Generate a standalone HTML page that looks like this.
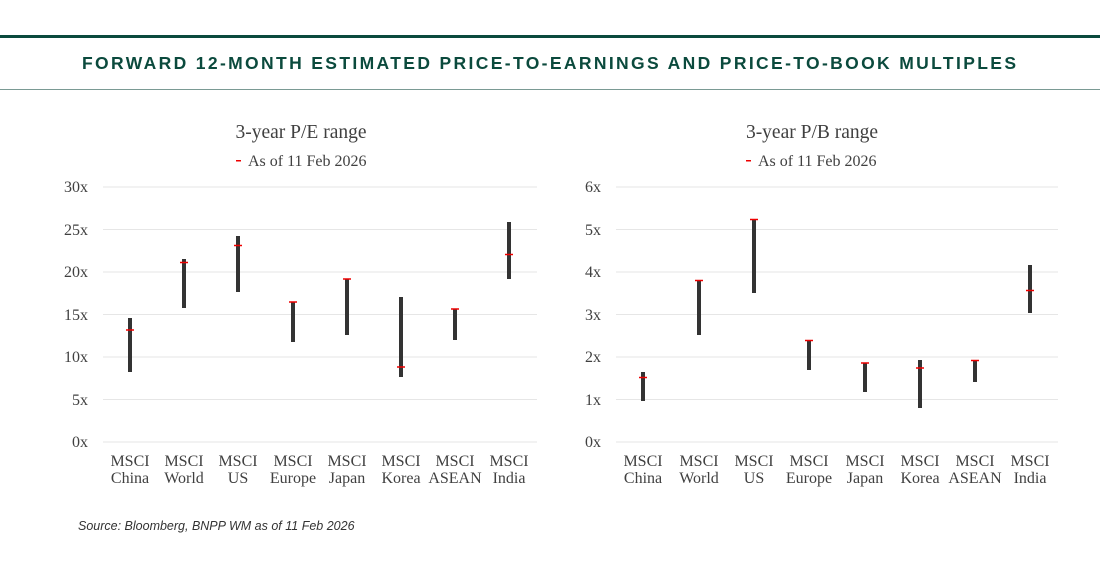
<!DOCTYPE html>
<html><head><meta charset="utf-8"><style>
html,body{margin:0;padding:0;background:#fff;}
body{width:1100px;height:570px;overflow:hidden;}
svg{display:block}
</style></head><body>
<svg width="1100" height="570" viewBox="0 0 1100 570" xmlns="http://www.w3.org/2000/svg">
<rect x="0" y="35" width="1100" height="3" fill="#0b4a3d"/>
<rect x="0" y="89" width="1100" height="1" fill="#7a9a94"/>
<text x="82" y="69" font-family="Liberation Sans, sans-serif" font-weight="bold" font-size="17.5" fill="#0b4a3d" textLength="934" lengthAdjust="spacing">FORWARD 12-MONTH ESTIMATED PRICE-TO-EARNINGS AND PRICE-TO-BOOK MULTIPLES</text>

<g font-family="Liberation Serif, serif" fill="#404040">
<text x="301" y="138" text-anchor="middle" font-size="19.5">3-year P/E range</text>
<text x="812" y="138" text-anchor="middle" font-size="19.5">3-year P/B range</text>
<text x="248" y="166" font-size="16">As of 11 Feb 2026</text>
<text x="758" y="166" font-size="16">As of 11 Feb 2026</text>
</g>
<rect x="236" y="160" width="5" height="1.5" fill="#e00"/>
<rect x="746" y="160" width="5" height="1.5" fill="#e00"/>

<g stroke="#e6e6e6" stroke-width="1">
<line x1="103" x2="537" y1="187" y2="187"/><line x1="103" x2="537" y1="229.5" y2="229.5"/><line x1="103" x2="537" y1="272" y2="272"/><line x1="103" x2="537" y1="314.5" y2="314.5"/><line x1="103" x2="537" y1="357" y2="357"/><line x1="103" x2="537" y1="399.5" y2="399.5"/><line x1="103" x2="537" y1="442" y2="442"/>
<line x1="616" x2="1058" y1="187" y2="187"/><line x1="616" x2="1058" y1="229.5" y2="229.5"/><line x1="616" x2="1058" y1="272" y2="272"/><line x1="616" x2="1058" y1="314.5" y2="314.5"/><line x1="616" x2="1058" y1="357" y2="357"/><line x1="616" x2="1058" y1="399.5" y2="399.5"/><line x1="616" x2="1058" y1="442" y2="442"/>
</g>
<g font-family="Liberation Serif, serif" font-size="16" fill="#404040" text-anchor="end">
<text x="88" y="192">30x</text><text x="88" y="235">25x</text><text x="88" y="277">20x</text><text x="88" y="320">15x</text><text x="88" y="362">10x</text><text x="88" y="405">5x</text><text x="88" y="447">0x</text>
<text x="601" y="192">6x</text><text x="601" y="235">5x</text><text x="601" y="277">4x</text><text x="601" y="320">3x</text><text x="601" y="362">2x</text><text x="601" y="405">1x</text><text x="601" y="447">0x</text>
</g>
<g stroke="#333" stroke-width="4">
<line x1="130" x2="130" y1="318" y2="372"/>
<line x1="184" x2="184" y1="259" y2="308"/>
<line x1="238" x2="238" y1="236" y2="292"/>
<line x1="293" x2="293" y1="302" y2="342"/>
<line x1="347" x2="347" y1="279" y2="335"/>
<line x1="401" x2="401" y1="297" y2="377"/>
<line x1="455" x2="455" y1="309" y2="340"/>
<line x1="509" x2="509" y1="222" y2="279"/>
<line x1="643" x2="643" y1="372" y2="401"/>
<line x1="699" x2="699" y1="281" y2="335"/>
<line x1="754" x2="754" y1="219" y2="293"/>
<line x1="809" x2="809" y1="341" y2="370"/>
<line x1="865" x2="865" y1="363" y2="392"/>
<line x1="920" x2="920" y1="360" y2="408"/>
<line x1="975" x2="975" y1="360" y2="382"/>
<line x1="1030" x2="1030" y1="265" y2="313"/>
</g>
<g stroke="#e00" stroke-width="1.5">
<line x1="126" x2="134" y1="330" y2="330"/>
<line x1="180" x2="188" y1="262.5" y2="262.5"/>
<line x1="234" x2="242" y1="245.5" y2="245.5"/>
<line x1="289" x2="297" y1="302" y2="302"/>
<line x1="343" x2="351" y1="279" y2="279"/>
<line x1="397" x2="405" y1="367" y2="367"/>
<line x1="451" x2="459" y1="309" y2="309"/>
<line x1="505" x2="513" y1="254.5" y2="254.5"/>
<line x1="639" x2="647" y1="377.5" y2="377.5"/>
<line x1="695" x2="703" y1="280.5" y2="280.5"/>
<line x1="750" x2="758" y1="219.5" y2="219.5"/>
<line x1="805" x2="813" y1="340.5" y2="340.5"/>
<line x1="861" x2="869" y1="363" y2="363"/>
<line x1="916" x2="924" y1="368" y2="368"/>
<line x1="971" x2="979" y1="360.5" y2="360.5"/>
<line x1="1026" x2="1034" y1="290.5" y2="290.5"/>
</g>
<g font-family="Liberation Serif, serif" font-size="16" fill="#404040" text-anchor="middle">
<text x="130" y="466">MSCI</text><text x="130" y="483">China</text>
<text x="184" y="466">MSCI</text><text x="184" y="483">World</text>
<text x="238" y="466">MSCI</text><text x="238" y="483">US</text>
<text x="293" y="466">MSCI</text><text x="293" y="483">Europe</text>
<text x="347" y="466">MSCI</text><text x="347" y="483">Japan</text>
<text x="401" y="466">MSCI</text><text x="401" y="483">Korea</text>
<text x="455" y="466">MSCI</text><text x="455" y="483">ASEAN</text>
<text x="509" y="466">MSCI</text><text x="509" y="483">India</text>
<text x="643" y="466">MSCI</text><text x="643" y="483">China</text>
<text x="699" y="466">MSCI</text><text x="699" y="483">World</text>
<text x="754" y="466">MSCI</text><text x="754" y="483">US</text>
<text x="809" y="466">MSCI</text><text x="809" y="483">Europe</text>
<text x="865" y="466">MSCI</text><text x="865" y="483">Japan</text>
<text x="920" y="466">MSCI</text><text x="920" y="483">Korea</text>
<text x="975" y="466">MSCI</text><text x="975" y="483">ASEAN</text>
<text x="1030" y="466">MSCI</text><text x="1030" y="483">India</text>
</g>
<text x="78" y="530" font-family="Liberation Sans, sans-serif" font-style="italic" font-size="12.5" fill="#333">Source: Bloomberg, BNPP WM as of 11 Feb 2026</text>
</svg>
</body></html>
